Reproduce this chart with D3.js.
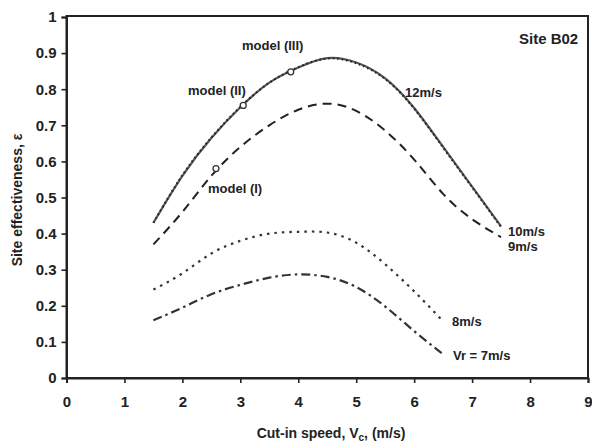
<!DOCTYPE html>
<html><head><meta charset="utf-8">
<script src="https://cdn.jsdelivr.net/npm/d3@7"></script>
<style>
body{margin:0;background:#fff;}
text{font-family:"Liberation Sans",Arial,sans-serif;fill:#222;}
</style></head>
<body><svg id="c" width="592" height="445"></svg>
<script>
const xTicks = [0,1,2,3,4,5,6,7,8,9];
const yTicks = [0,0.1,0.2,0.3,0.4,0.5,0.6,0.7,0.8,0.9,1];
const vcLong = [1.5,2,2.5,3,3.5,4,4.5,5,5.5,6,6.5,7,7.5];
const vcShort = [1.5,2,2.5,3,3.5,4,4.5,5,5.5,6,6.5];
const eff12 = [0.43,0.56,0.665,0.75,0.818,0.86,0.886,0.874,0.83,0.748,0.64,0.53,0.42];
const eff10 = [0.43,0.562,0.666,0.751,0.818,0.861,0.885,0.872,0.828,0.746,0.638,0.528,0.418];
const eff9  = [0.37,0.46,0.56,0.64,0.70,0.743,0.76,0.74,0.685,0.605,0.51,0.44,0.39];
const eff8  = [0.245,0.29,0.345,0.38,0.40,0.405,0.403,0.375,0.315,0.24,0.157];
const eff7  = [0.16,0.195,0.232,0.258,0.278,0.287,0.28,0.252,0.198,0.13,0.066];
const modelPts = [{name:"model (I)",v:2.58,e:0.58},{name:"model (II)",v:3.05,e:0.755},{name:"model (III)",v:3.87,e:0.848}];

const svg = d3.select("#c");
const L=66.5, R=588, T=17, B=378;
const x = d3.scaleLinear().domain([0,9]).range([L,R]);
const y = d3.scaleLinear().domain([0,1]).range([B,T]);

svg.append("rect").attr("x",L).attr("y",T-1).attr("width",R-L).attr("height",B-T+1)
  .attr("fill","none").attr("stroke","#222").attr("stroke-width",2);

const gx = svg.append("g").attr("transform",`translate(0,${B})`)
  .call(d3.axisBottom(x).tickValues(xTicks).tickFormat(d3.format("d")).tickSizeOuter(0).tickSize(5).tickPadding(13));
const gy = svg.append("g").attr("transform",`translate(${L},0)`)
  .call(d3.axisLeft(y).tickValues(yTicks).tickFormat(d=>d===0||d===1?String(d):d3.format(".1f")(d)).tickSizeOuter(0).tickSize(5).tickPadding(5));
[gx,gy].forEach(g=>{
  g.select(".domain").attr("stroke","#222").attr("stroke-width",2);
  g.selectAll(".tick line").attr("stroke","#222").attr("stroke-width",1.6);
  g.selectAll(".tick text").attr("font-size",15).attr("font-weight","bold").attr("fill","#222")
   .attr("font-family","'Liberation Sans',Arial,sans-serif");
});

const line = d3.line().x(d=>x(d[0])).y(d=>y(d[1])).curve(d3.curveNatural);
const series = [
  {v:vcLong, e:eff12, dash:null, w:2.2, c:"#555"},
  {v:vcLong, e:eff10, dash:"1.5,3", w:2, c:"#222"},
  {v:vcLong, e:eff9, dash:"9,6", w:2, c:"#222"},
  {v:vcShort, e:eff8, dash:"2.5,5", w:2.2, c:"#333"},
  {v:vcShort, e:eff7, dash:"9,4,2.5,4", w:2.2, c:"#333"}
];
series.forEach(s=>{
  svg.append("path").datum(s.v.map((v,i)=>[v,s.e[i]]))
    .attr("d",line).attr("fill","none").attr("stroke",s.c).attr("stroke-width",s.w)
    .attr("stroke-dasharray",s.dash);
});

svg.selectAll("circle.m").data(modelPts).enter().append("circle")
  .attr("cx",d=>x(d.v)).attr("cy",d=>y(d.e)).attr("r",3)
  .attr("fill","#fff").attr("stroke","#333").attr("stroke-width",1.3);

const labels = [
  {t:"model (III)",x:242,y:50},
  {t:"model (II)",x:188,y:95},
  {t:"model (I)",x:208,y:193},
  {t:"12m/s",x:405,y:97},
  {t:"10m/s",x:508,y:236},
  {t:"9m/s",x:508,y:251},
  {t:"8m/s",x:452,y:326},
  {t:"Vr = 7m/s",x:453,y:360}
];
svg.selectAll("text.lab").data(labels).enter().append("text")
  .attr("x",d=>d.x).attr("y",d=>d.y).attr("font-size",13).attr("font-weight","bold").text(d=>d.t);

svg.append("text").attr("x",519).attr("y",44).attr("font-size",15).attr("font-weight","bold").text("Site B02");

svg.append("text").attr("transform","translate(22,200) rotate(-90)").attr("text-anchor","middle")
  .attr("font-size",14).attr("font-weight","bold").text("Site effectiveness, ε");

const xt = svg.append("text").attr("x",331).attr("y",438).attr("text-anchor","middle")
  .attr("font-size",14).attr("font-weight","bold");
xt.append("tspan").text("Cut-in speed, V");
xt.append("tspan").attr("font-size",10).attr("dy",3).text("c");
xt.append("tspan").attr("dy",-3).text(", (m/s)");
</script></body></html>
